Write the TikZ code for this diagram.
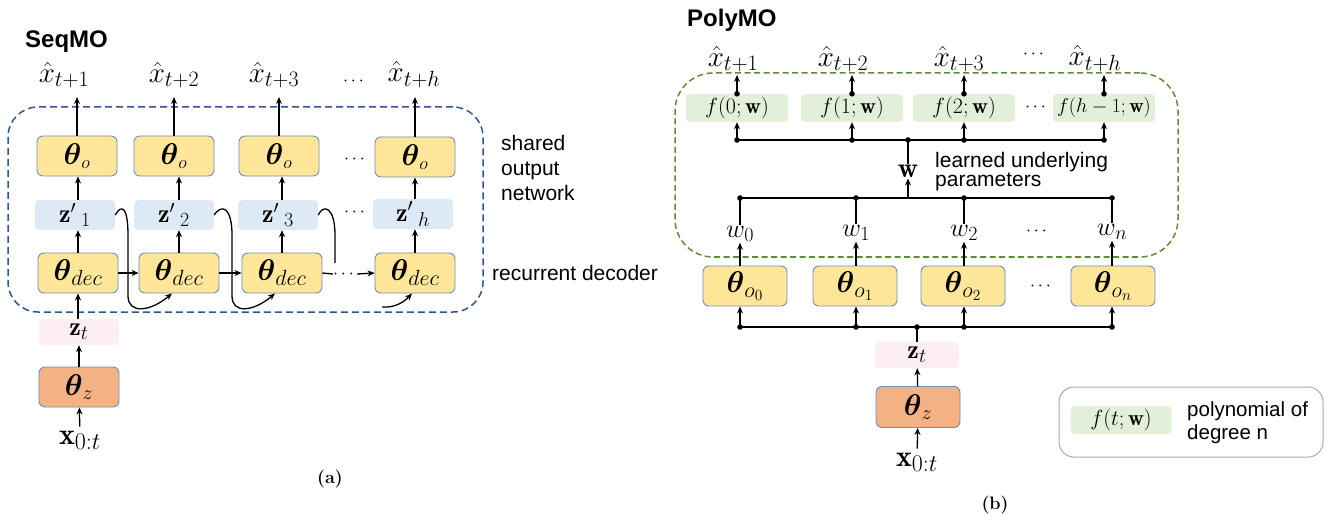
\RequirePackage{fix-cm}
\documentclass[tikz,border=0pt]{standalone}
\usepackage{amsmath}
\usepackage{fontspec}
\newfontfamily\arialfont{Liberation Sans}
\usetikzlibrary{arrows.meta}
\newcommand{\fsz}[1]{\fontsize{#1}{#1}\selectfont}
\newcommand{\bth}{\boldsymbol{\theta}}
\newcommand{\ssb}[2][20]{\hbox{\fsz{#1}$#2$}}
\definecolor{yfill}{RGB}{255,230,153}
\definecolor{ofill}{RGB}{244,177,131}
\definecolor{bord}{RGB}{109,142,191}
\definecolor{zpfill}{RGB}{222,233,246}
\definecolor{ztfill}{RGB}{253,238,246}
\definecolor{gfill}{RGB}{226,240,217}
\definecolor{bdash}{RGB}{47,85,151}
\definecolor{gdash}{RGB}{95,140,55}
\definecolor{legb}{RGB}{170,170,170}
\begin{document}
\begin{tikzpicture}[x=1pt,y=1pt,
  arr/.style={-{Stealth[length=7pt,width=6pt]}, line width=1.3pt},
  ln/.style={line width=1.3pt},
  ybox/.style={draw=bord, line width=0.9pt, fill=yfill, rounded corners=6pt, minimum width=80pt, minimum height=40pt, inner sep=0pt, font=\fsz{30}},
  obox/.style={ybox, fill=ofill},
  zpbox/.style={fill=zpfill, rounded corners=4pt, minimum width=80pt, minimum height=30pt, inner sep=0pt, font=\fsz{26}},
  ztbox/.style={fill=ztfill, rounded corners=4pt, minimum width=80pt, minimum height=26pt, inner sep=0pt, font=\fsz{26}},
  fbox/.style={fill=gfill, rounded corners=4pt, minimum width=102pt, minimum height=28pt, inner sep=0pt, font=\fsz{22}},
  xh/.style={inner xsep=0pt, inner ysep=0pt, font=\fsz{29}},
  wl/.style={inner sep=1pt, font=\fsz{26}},
  lbl/.style={font=\arialfont\fontsize{21}{25}\selectfont, inner sep=0pt, align=left},
  ttl/.style={font=\arialfont\bfseries\fsz{24}, inner sep=0pt},
  captxt/.style={font=\bfseries\fsz{18}, inner sep=0pt},
  dd/.style={inner sep=0pt, font=\fsz{18}},
]
\useasboundingbox (0,0) rectangle (1332,-521);

% ================= SeqMO =================
\node[ttl, anchor=west] (t1) at (25,-42) {SeqMO};
\node[draw=bdash, line width=1.5pt, dash pattern=on 7pt off 4pt, rounded corners=30pt,
      minimum width=475pt, minimum height=205pt, inner sep=0pt] (seqbox) at (245.5,-209.5) {};

\node[ybox] (o1) at (77,-156) {$\bth_{\ssb[18]{o}}$};
\node[ybox] (o2) at (174,-156) {$\bth_{\ssb[18]{o}}$};
\node[ybox] (o3) at (279,-156) {$\bth_{\ssb[18]{o}}$};
\node[ybox] (o4) at (415,-157) {$\bth_{\ssb[18]{o}}$};
\node[dd] (od) at (356,-160) {$\cdots$};

\node[zpbox] (zp1) at (75,-215) {${\mathbf{z}'}_{\kern5pt\ssb[20]{1}}$};
\node[zpbox] (zp2) at (174,-215) {${\mathbf{z}'}_{\kern5pt\ssb[20]{2}}$};
\node[zpbox] (zp3) at (278,-215) {${\mathbf{z}'}_{\kern5pt\ssb[20]{3}}$};
\node[zpbox] (zp4) at (413,-214) {${\mathbf{z}'}_{\kern5pt\ssb[20]{h}}$};
\node[dd] (zd) at (356,-213) {$\cdots$};

\node[ybox] (d1) at (78,-273) {$\bth_{\ssb[22]{dec}}$};
\node[ybox] (d2) at (179,-273) {$\bth_{\ssb[22]{dec}}$};
\node[ybox] (d3) at (282,-273) {$\bth_{\ssb[22]{dec}}$};
\node[ybox] (d4) at (415,-273) {$\bth_{\ssb[22]{dec}}$};
\node[dd] (ddd) at (345,-274) {$\cdots$};

\node[xh, anchor=south, inner ysep=9pt] (xh1) at (64,-97) {$\hat{x}_{\ssb[22]{t{+}1}}$};
\node[xh, anchor=south, inner ysep=9pt] (xh2) at (174,-97) {$\hat{x}_{\ssb[22]{t{+}2}}$};
\node[xh, anchor=south, inner ysep=9pt] (xh3) at (274,-97) {$\hat{x}_{\ssb[22]{t{+}3}}$};
\node[xh, anchor=south, inner ysep=9pt] (xh4) at (414,-97) {$\hat{x}_{\ssb[22]{t{+}h}}$};
\node[dd] (xd) at (355,-82) {$\cdots$};

\node[ztbox] (zt1) at (79,-332) {$\mathbf{z}_{\ssb[20]{t}}$};
\node[obox] (tz1) at (79,-387) {$\bth_{\ssb[20]{z}}$};
\node[xh, font=\fsz{30}, inner ysep=4pt] (x1) at (80,-440) {$\mathbf{x}_{\ssb[24]{0{:}t}}$};

\foreach \i in {1,2,3,4} {
  \draw[arr] (d\i.north) -- (d\i.north |- zp\i.south);
  \draw[arr] (zp\i.north -| d\i.north) -- (o\i.south -| d\i.north);
  \draw[arr] (o\i.north) -- (o\i.north |- xh\i.south);
}
\draw[arr] (x1) -- (tz1);
\draw[arr] (tz1) -- (zt1);
\draw[arr] (zt1.north -| d1.south) -- (d1.south);
\draw[arr] (d1) -- (d2);
\draw[arr] (d2) -- (d3);
\draw[ln] (d3.east) -- (ddd.west);
\draw[arr] (ddd.east) -- (d4.west);

% recurrent feedback curves
\draw[arr] (zp1.east) .. controls (122,-203) and (128,-208) .. (128,-235) -- (128,-296)
  .. controls (128,-314) and (150,-312) .. ([xshift=-7pt]d2.south);
\draw[arr] (zp2.east) .. controls (222,-203) and (232,-208) .. (232,-235) -- (232,-296)
  .. controls (232,-314) and (253,-312) .. ([xshift=-7pt]d3.south);
\draw[ln] (zp3.east) .. controls (324,-203) and (335,-208) .. (335,-235) -- (335,-263);
\coordinate (c4) at (382,-307);
\draw[arr] (c4) .. controls (395,-308) and (404,-302) .. ([xshift=-3pt]d4.south);

\node[lbl, anchor=west] (lab1) at (501,-168) {shared\\output\\network};
\node[lbl, anchor=west] (lab2) at (492,-273) {recurrent decoder};
\node[captxt] (capa) at (330,-479) {(a)};

% ================= PolyMO =================
\node[ttl, anchor=west] (t2) at (687,-20) {PolyMO};
\node[draw=gdash, line width=1.5pt, dash pattern=on 6pt off 3.5pt, rounded corners=38pt,
      minimum width=503pt, minimum height=184pt, inner sep=0pt] (polybox) at (926.5,-165) {};

\node[xh, anchor=south, inner ysep=3pt] (p1) at (733,-75) {$\hat{x}_{\ssb[22]{t{+}1}}$};
\node[xh, anchor=south, inner ysep=3pt] (p2) at (843,-75) {$\hat{x}_{\ssb[22]{t{+}2}}$};
\node[xh, anchor=south, inner ysep=3pt] (p3) at (959,-75) {$\hat{x}_{\ssb[22]{t{+}3}}$};
\node[xh, anchor=south, inner ysep=3pt] (p4) at (1095,-75) {$\hat{x}_{\ssb[22]{t{+}h}}$};
\node[dd] (pd) at (1035,-55) {$\cdots$};

\node[fbox] (f0) at (737,-108) {$f(0;\mathbf{w})$};
\node[fbox] (f1) at (852,-108) {$f(1;\mathbf{w})$};
\node[fbox] (f2) at (964,-108) {$f(2;\mathbf{w})$};
\node[fbox, font=\fsz{20}] (f3) at (1104,-108) {$f(h-1;\mathbf{w})$};
\node[dd] (fd) at (1037,-108) {$\cdots$};

\coordinate (busA) at (908,-140);
\coordinate (busB) at (908,-198);
\coordinate (busC) at (917,-327);

\node[inner sep=1pt, font=\fsz{28}] (W) at (908,-171) {$\mathbf{w}$};
\node[lbl, anchor=north west, font=\arialfont\fontsize{21}{14.5}\selectfont] (lab3) at (935,-152) {learned underlying\\parameters};

\node[wl] (w0) at (740,-234) {$w_{\ssb[20]{0}}$};
\node[wl] (w1) at (856,-233) {$w_{\ssb[20]{1}}$};
\node[wl] (w2) at (964,-233) {$w_{\ssb[20]{2}}$};
\node[wl] (w3) at (1112,-232) {$w_{\ssb[20]{n}}$};
\node[dd] (wd) at (1038,-232) {$\cdots$};

\node[ybox, minimum width=84pt] (q0) at (745,-286) {$\bth_{\ssb[22]{o_0}}$};
\node[ybox, minimum width=84pt] (q1) at (855,-286) {$\bth_{\ssb[22]{o_1}}$};
\node[ybox, minimum width=84pt] (q2) at (963,-286) {$\bth_{\ssb[22]{o_2}}$};
\node[ybox, minimum width=84pt] (q3) at (1113,-286) {$\bth_{\ssb[22]{o_n}}$};
\node[dd] (qd) at (1042,-286) {$\cdots$};

\node[ztbox, minimum width=84pt] (zt2) at (917,-355) {$\mathbf{z}_{\ssb[20]{t}}$};
\node[obox, minimum width=84pt, minimum height=41pt] (tz2) at (918,-407) {$\bth_{\ssb[20]{z}}$};
\node[xh, font=\fsz{30}, inner ysep=4pt] (x2) at (917,-462) {$\mathbf{x}_{\ssb[24]{0{:}t}}$};

% top arrows from f boxes
\foreach \i/\j in {0/1,1/2,2/3,3/4} {
  \draw[arr] (f\i.north) -- (f\i.north |- p\j.south);
  \fill (f\i.north) circle (2.8pt);
  \draw[arr] (f\i.south |- busA) -- (f\i.south);
  \fill (f\i.south |- busA) circle (2.8pt);
}
\draw[ln] (f0.south |- busA) -- (f3.south |- busA);
\fill (busA) circle (2.8pt);
\draw[ln] (busA) -- (W.north);
\draw[arr] (busB) -- (W.south);
\draw[ln] (w0.north |- busB) -- (w3.north |- busB);
\foreach \i in {0,1,2,3} {
  \draw[ln] (w\i.north |- busB) -- (w\i.north);
  \fill (w\i.north |- busB) circle (2.8pt);
  \draw[arr] (w\i.south |- q\i.north) -- (w\i.south);
  \draw[arr] (w\i.south |- busC) -- (w\i.south |- q\i.south);
  \fill (w\i.south |- busC) circle (2.8pt);
}
\draw[ln] (w0.south |- busC) -- (w3.south |- busC);
\fill (busC) circle (2.8pt);
\draw[ln] (zt2.north -| busC) -- (busC);
\draw[arr] (tz2) -- (zt2);
\draw[arr] (x2) -- (tz2);

% legend
\node[draw=legb, line width=1pt, rounded corners=15pt, minimum width=264pt, minimum height=70pt, inner sep=0pt] (leg) at (1191,-422) {};
\node[fbox, minimum width=101pt] (lf) at (1121,-420) {$f(t;\mathbf{w})$};
\node[lbl, anchor=west, font=\arialfont\fontsize{20.5}{23}\selectfont] (lab4) at (1187,-423) {polynomial of\\degree n};

\node[captxt] (capb) at (995,-505) {(b)};
\end{tikzpicture}
\end{document}
